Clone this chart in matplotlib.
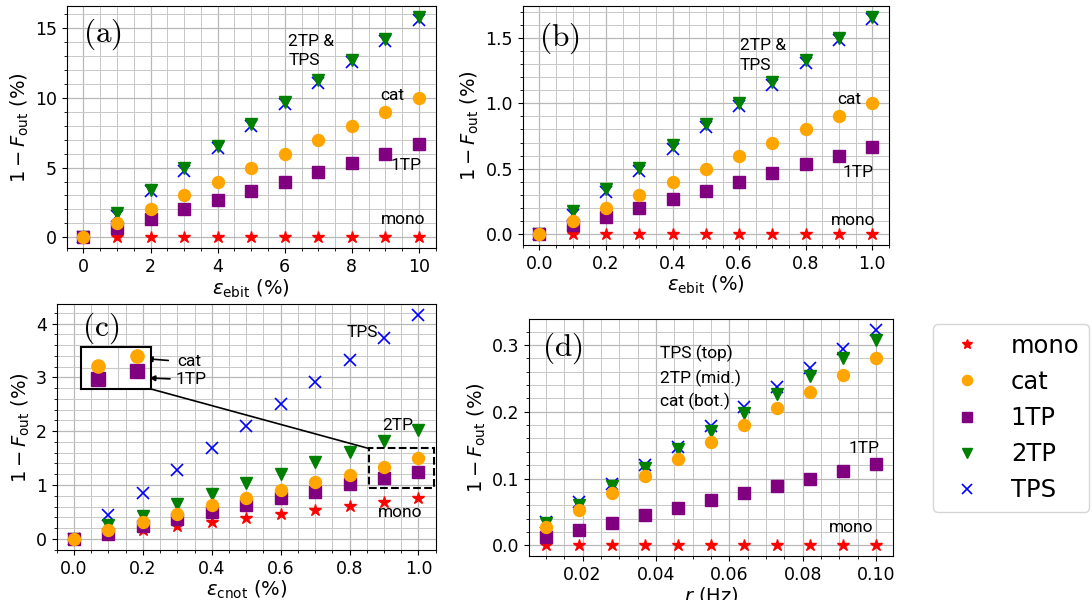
import numpy as np
import matplotlib.pyplot as plt
from matplotlib.ticker import AutoMinorLocator
from matplotlib.patches import Rectangle, ConnectionPatch

# (a) ebit error 0-10 %
eps_a = [0, 1, 2, 3, 4, 5, 6, 7, 8, 9, 10]
mono_a = [0, 0, 0, 0, 0, 0, 0, 0, 0, 0, 0]
cat_a = [0, 1, 2, 3, 4, 5, 6, 7, 8, 9, 10]
tp1_a = [0, 0.67, 1.33, 2.0, 2.67, 3.33, 4.0, 4.67, 5.33, 6.0, 6.67]
tp2_a = [0, 1.74, 3.40, 4.95, 6.57, 8.12, 9.71, 11.26, 12.75, 14.24, 15.8]
tps_a = [0, 1.5, 3.29, 4.79, 6.43, 7.98, 9.55, 11.07, 12.6, 14.07, 15.6]

# (b) ebit error 0-1 %
eps_b = [0, 0.1, 0.2, 0.3, 0.4, 0.5, 0.6, 0.7, 0.8, 0.9, 1.0]
mono_b = [0, 0, 0, 0, 0, 0, 0, 0, 0, 0, 0]
cat_b = [0, 0.1, 0.2, 0.3, 0.4, 0.5, 0.6, 0.7, 0.8, 0.9, 1.0]
tp1_b = [0, 0.067, 0.133, 0.2, 0.267, 0.333, 0.4, 0.467, 0.533, 0.6, 0.667]
tp2_b = [0, 0.18, 0.344, 0.505, 0.68, 0.84, 1.0, 1.163, 1.334, 1.495, 1.66]
tps_b = [0, 0.15, 0.32, 0.48, 0.65, 0.82, 0.98, 1.14, 1.31, 1.48, 1.64]

# (c) cnot error
eps_c = [0, 0.1, 0.2, 0.3, 0.4, 0.5, 0.6, 0.7, 0.8, 0.9, 1.0]
mono_c = [0, 0.08, 0.17, 0.23, 0.31, 0.38, 0.46, 0.53, 0.61, 0.69, 0.76]
cat_c = [0, 0.17, 0.31, 0.46, 0.62, 0.75, 0.9, 1.05, 1.19, 1.34, 1.5]
tp1_c = [0, 0.09, 0.23, 0.37, 0.49, 0.62, 0.75, 0.87, 1.01, 1.13, 1.25]
tp2_c = [0, 0.25, 0.43, 0.65, 0.83, 1.03, 1.21, 1.42, 1.61, 1.82, 2.02]
tps_c = [0, 0.44, 0.86, 1.27, 1.69, 2.09, 2.51, 2.92, 3.32, 3.74, 4.15]

# (d) rate r
r_d = [0.01, 0.019, 0.028, 0.037, 0.046, 0.055, 0.064, 0.073, 0.082, 0.091, 0.1]
mono_d = [0, 0, 0, 0, 0, 0, 0, 0, 0, 0, 0]
cat_d = [0.0275, 0.0535, 0.0785, 0.1035, 0.129, 0.154, 0.18, 0.205, 0.23, 0.255, 0.281]
tp1_d = [0.0125, 0.0235, 0.0335, 0.045, 0.056, 0.0675, 0.0785, 0.089, 0.1, 0.1115, 0.1225]
tp2_d = [0.033, 0.061, 0.089, 0.116, 0.144, 0.171, 0.198, 0.226, 0.253, 0.281, 0.308]
tps_d = [0.035, 0.065, 0.0925, 0.12, 0.1475, 0.1785, 0.2065, 0.2365, 0.265, 0.2935, 0.3225]

labels = ['mono', 'cat', '1TP', '2TP', 'TPS']
colors = ['red', 'orange', 'purple', 'green', 'blue']
markers = ['*', 'o', 's', 'v', 'x']
draw_order = [4, 3, 0, 2, 1]  # TPS, 2TP, mono, 1TP, cat

W, H = 1092, 600
ann_font = ['Roboto', 'DejaVu Sans']


def box(l, t, r, b):
    return [l / W, 1 - b / H, (r - l) / W, (b - t) / H]


def draw(ax, x, series, ms=8.6):
    hs = {}
    for i in draw_order:
        h, = ax.plot(x, series[i], ls='none', marker=markers[i], color=colors[i],
                     ms=ms, mew=1.2 if markers[i] == 'x' else 1.0, zorder=3 + draw_order.index(i))
        hs[i] = h
    ax.xaxis.set_minor_locator(AutoMinorLocator())
    ax.yaxis.set_minor_locator(AutoMinorLocator())
    ax.grid(True, which='major', color='#b8b8b8', lw=0.9)
    ax.grid(True, which='minor', color='#c8c8c8', lw=0.7)
    ax.set_axisbelow(True)
    ax.tick_params(labelsize=12.5)
    ax.set_ylabel(r'$1-F_{\mathrm{out}}$ (%)', fontsize=14, labelpad=3)
    return [hs[i] for i in range(5)]


fig = plt.figure(figsize=(W / 100, H / 100), dpi=100)

ax_a = fig.add_axes(box(66.7, 6, 435.7, 248.3))
hs = draw(ax_a, eps_a, [mono_a, cat_a, tp1_a, tp2_a, tps_a])
ax_a.set_xlabel(r'$\varepsilon_{\mathrm{ebit}}$ (%)', fontsize=14, labelpad=1)
ax_a.set_xticks([0, 2, 4, 6, 8, 10])
ax_a.set_yticks([0, 5, 10, 15])
ax_a.text(6.1, 13.35, '2TP &\nTPS', fontsize=12.5, family=ann_font, va='center', linespacing=1.35)
ax_a.text(8.84, 10.2, 'cat', fontsize=12.5, family=ann_font, va='center')
ax_a.text(9.14, 5.18, '1TP', fontsize=12.5, family=ann_font, va='center')
ax_a.text(8.86, 1.27, 'mono', fontsize=12.5, family=ann_font, va='center')

ax_b = fig.add_axes(box(522.7, 6, 889, 245))
draw(ax_b, eps_b, [mono_b, cat_b, tp1_b, tp2_b, tps_b])
ax_b.set_xlabel(r'$\varepsilon_{\mathrm{ebit}}$ (%)', fontsize=14, labelpad=1)
ax_b.text(0.602, 1.365, '2TP &\nTPS', fontsize=12.5, family=ann_font, va='center', linespacing=1.35)
ax_b.text(0.895, 1.03, 'cat', fontsize=12.5, family=ann_font, va='center')
ax_b.text(0.91, 0.47, '1TP', fontsize=12.5, family=ann_font, va='center')
ax_b.text(0.874, 0.105, 'mono', fontsize=12.5, family=ann_font, va='center')

ax_c = fig.add_axes(box(56.7, 304.3, 435.7, 550))
draw(ax_c, eps_c, [mono_c, cat_c, tp1_c, tp2_c, tps_c])
ax_c.set_xlabel(r'$\varepsilon_{\mathrm{cnot}}$ (%)', fontsize=14, labelpad=1)
ax_c.set_yticks([0, 1, 2, 3, 4])
ax_c.text(0.79, 3.83, 'TPS', fontsize=12.5, family=ann_font, va='center')
ax_c.text(0.894, 2.1, '2TP', fontsize=12.5, family=ann_font, va='center')
ax_c.text(0.882, 0.49, 'mono', fontsize=12.5, family=ann_font, va='center')
ax_c.add_patch(Rectangle((0.855, 0.95), 0.19, 0.73, fill=False, ls='--', lw=1.5,
                         color='black', zorder=10))

# zoomed inset of the dashed region
ax_in = fig.add_axes(box(81, 347, 151, 389))
ax_in.plot(eps_c, tp1_c, ls='none', marker=markers[2], color=colors[2], ms=9.5)
ax_in.plot(eps_c, cat_c, ls='none', marker=markers[1], color=colors[1], ms=9.5)
ax_in.set_xlim(0.855, 1.037)
ax_in.set_ylim(0.97, 1.64)
ax_in.set_xticks([0.95])
ax_in.set_yticks([1.3])
ax_in.tick_params(length=0, labelbottom=False, labelleft=False)
ax_in.grid(True, color='#c8c8c8', lw=0.8)
ax_in.set_axisbelow(True)
for s in ax_in.spines.values():
    s.set_linewidth(1.5)

con = ConnectionPatch(xyA=(1, 0), coordsA=ax_in.transAxes, xyB=(0.855, 1.68),
                      coordsB=ax_c.transData, color='black', lw=1.2)
fig.add_artist(con)
ax_c.annotate('', xy=(0.203, 3.35), xytext=(0.282, 3.31),
              arrowprops=dict(arrowstyle='-|>', color='black', lw=1.2, mutation_scale=8))
ax_c.annotate('', xy=(0.211, 2.99), xytext=(0.287, 2.97),
              arrowprops=dict(arrowstyle='-|>', color='black', lw=1.2, mutation_scale=8))
ax_c.text(0.2985, 3.30, 'cat', fontsize=12.5, family=ann_font, va='center')
ax_c.text(0.296, 2.965, '1TP', fontsize=12.5, family=ann_font, va='center')

ax_d = fig.add_axes(box(529.3, 319.3, 892.7, 556))
draw(ax_d, r_d, [mono_d, cat_d, tp1_d, tp2_d, tps_d])
ax_d.set_xlabel(r'$r$ (Hz)', fontsize=14, labelpad=1)
ax_d.set_xticks([0.02, 0.04, 0.06, 0.08, 0.10])
ax_d.set_yticks([0.0, 0.1, 0.2, 0.3])
ax_d.text(0.041, 0.2875, 'TPS (top)', fontsize=12.5, family=ann_font, va='center')
ax_d.text(0.041, 0.25, '2TP (mid.)', fontsize=12.5, family=ann_font, va='center')
ax_d.text(0.041, 0.216, 'cat (bot.)', fontsize=12.5, family=ann_font, va='center')
ax_d.text(0.0926, 0.145, '1TP', fontsize=12.5, family=ann_font, va='center')
ax_d.text(0.0871, 0.026, 'mono', fontsize=12.5, family=ann_font, va='center')

# panel letters
for ax, txt, (px, py) in [(ax_a, '(a)', (83, 16)), (ax_b, '(b)', (539, 20)),
                          (ax_c, '(c)', (82, 311)), (ax_d, '(d)', (542, 330))]:
    fig.text(px / W, 1 - py / H, r'$\mathrm{' + txt + '}$', fontsize=22.5,
             math_fontfamily='cm', ha='left', va='top')

fig.legend(hs, labels, loc='upper left', bbox_to_anchor=(933 / W, 1 - 324 / H),
           borderaxespad=0, fontsize=17.5, markerscale=0.85)

fig.savefig('out.png', dpi=100)
